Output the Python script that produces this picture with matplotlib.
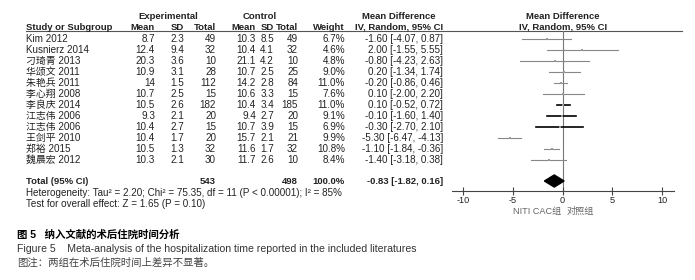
import matplotlib
matplotlib.use("Agg")
import matplotlib.pyplot as plt
from matplotlib.patches import Polygon

plt.rcParams['font.family'] = ['Liberation Sans', 'Noto Sans CJK SC', 'DejaVu Sans']

# ---- data ----
studies = ["Kim 2012", "Kusnierz 2014", "刁琦青 2013", "华颂文 2011", "朱艳兵 2011",
           "李心翔 2008", "李良庆 2014", "江志伟 2006", "江志伟 2006", "王剑平 2010",
           "郑裕 2015", "魏晨宏 2012"]
exp_mean = [8.7, 12.4, 20.3, 10.9, 14, 10.7, 10.5, 9.3, 10.4, 10.4, 10.5, 10.3]
exp_sd = [2.3, 9.4, 3.6, 3.1, 1.5, 2.5, 2.6, 2.1, 2.7, 1.7, 1.3, 2.1]
exp_n = [49, 32, 10, 28, 112, 15, 182, 20, 15, 20, 32, 30]
ctl_mean = [10.3, 10.4, 21.1, 10.7, 14.2, 10.6, 10.4, 9.4, 10.7, 15.7, 11.6, 11.7]
ctl_sd = [8.5, 4.1, 4.2, 2.5, 2.8, 3.3, 3.4, 2.7, 3.9, 2.1, 1.7, 2.6]
ctl_n = [49, 32, 10, 25, 84, 15, 185, 20, 15, 21, 32, 10]
weights = [6.7, 4.6, 4.8, 9.0, 11.0, 7.6, 11.0, 9.1, 6.9, 9.9, 10.8, 8.4]
md = [-1.60, 2.00, -0.80, 0.20, -0.20, 0.10, 0.10, -0.10, -0.30, -5.30, -1.10, -1.40]
ci_lo = [-4.07, -1.55, -4.23, -1.34, -0.86, -2.00, -0.52, -1.60, -2.70, -6.47, -1.84, -3.18]
ci_hi = [0.87, 5.55, 2.63, 1.74, 0.46, 2.20, 0.72, 1.40, 2.10, -4.13, -0.36, 0.38]
dark_rows = [6, 7, 8]

total_exp, total_ctl = 543, 498
total_md, total_lo, total_hi = -0.83, -1.82, 0.16
xticks = [-10, -5, 0, 5, 10]

W, H = 695, 280
FS = 7.1      # normal table text
FSB = 6.8     # bold header text
TXT = '#222222'

fig = plt.figure(figsize=(W / 100, H / 100), dpi=100)

# text layer in pixel coordinates
tx = fig.add_axes([0, 0, 1, 1])
tx.set_xlim(0, W)
tx.set_ylim(H, 0)
tx.axis('off')


def row_y(i):
    return 39 + 11 * i


def put(x, y, s, ha='left', bold=False, size=None, color=TXT):
    if size is None:
        size = FSB if bold else FS
    # y is the visual centre of capitals; place on a common baseline
    tx.text(x, y + size * 0.47, s, ha=ha, va='baseline', fontsize=size, color=color,
            fontweight='bold' if bold else 'normal')


# headers
put(168, 15.5, "Experimental", ha='center', bold=True)
put(260, 15.5, "Control", ha='center', bold=True)
put(399, 15.5, "Mean Difference", ha='center', bold=True)
put(563, 15.5, "Mean Difference", ha='center', bold=True)
put(26, 26.5, "Study or Subgroup", bold=True)
for x, s in [(155, "Mean"), (184, "SD"), (216, "Total"), (256, "Mean"),
             (274, "SD"), (298, "Total"), (345, "Weight")]:
    put(x, 26.5, s, ha='right', bold=True)
put(399, 26.5, "IV, Random, 95% CI", ha='center', bold=True)
put(563, 26.5, "IV, Random, 95% CI", ha='center', bold=True)
tx.plot([26, 682], [31, 31], color='#555555', lw=0.8)

# study rows
for i, name in enumerate(studies):
    y = row_y(i)
    put(26, y, name)
    put(155, y, f"{exp_mean[i]:g}", ha='right')
    put(184, y, f"{exp_sd[i]:g}", ha='right')
    put(216, y, f"{exp_n[i]}", ha='right')
    put(256, y, f"{ctl_mean[i]:g}", ha='right')
    put(274, y, f"{ctl_sd[i]:g}", ha='right')
    put(298, y, f"{ctl_n[i]}", ha='right')
    put(345, y, f"{weights[i]:.1f}%", ha='right')
    put(443, y, f"{md[i]:.2f} [{ci_lo[i]:.2f}, {ci_hi[i]:.2f}]", ha='right')

# total rows
yt = 181
put(26, yt, "Total (95% CI)", bold=True)
put(216, yt, f"{total_exp}", ha='right', bold=True)
put(298, yt, f"{total_ctl}", ha='right', bold=True)
put(345, yt, "100.0%", ha='right', bold=True)
put(443, yt, f"{total_md:.2f} [{total_lo:.2f}, {total_hi:.2f}]", ha='right', bold=True)
put(26, 192.5, "Heterogeneity: Tau² = 2.20; Chi² = 75.35, df = 11 (P < 0.00001); I² = 85%")
put(26, 204, "Test for overall effect: Z = 1.65 (P = 0.10)")

# captions
put(17, 234, "图 5   纳入文献的术后住院时间分析", size=7.5, color='black', bold=True)
put(17, 248, "Figure 5    Meta-analysis of the hospitalization time reported in the included literatures",
    size=7.6, color='#333333')
put(17, 262, "图注：两组在术后住院时间上差异不显著。", size=7.5, color='#444444')

# ---- forest plot ----
x0, x1 = 452, 674
y_top, y_bot = 31, 191
ax = fig.add_axes([x0 / W, 1 - y_bot / H, (x1 - x0) / W, (y_bot - y_top) / H])
px_per_unit = (662 - 463) / 20.0
ax.set_xlim(-10 - (463 - x0) / px_per_unit, 10 + (x1 - 662) / px_per_unit)
ax.set_ylim((y_bot - 39) / 11.0, (y_top - 39) / 11.0)
ax.patch.set_alpha(0)
for side in ['top', 'right', 'left']:
    ax.spines[side].set_visible(False)
ax.spines['bottom'].set_color('#444444')
ax.spines['bottom'].set_linewidth(0.8)
ax.set_yticks([])
ax.set_xticks(xticks)
ax.set_xticklabels([str(t) for t in xticks], fontsize=6.6, color=TXT)
ax.tick_params(axis='x', direction='inout', length=6, width=0.8, color='#444444', pad=0.5)
ax.axvline(0, color='#777777', lw=0.8, zorder=1)

for i in range(len(studies)):
    col = 'black' if i in dark_rows else '#888888'
    lw = 1.2 if i in dark_rows else 0.8
    ax.plot([ci_lo[i], ci_hi[i]], [i, i], color=col, lw=lw, zorder=2)
    ax.plot(md[i], i, marker='s', color='#999999', markersize=1.0 + weights[i] * 0.1,
            markeredgewidth=0, zorder=3)

yd = (yt - 39) / 11.0
diamond = Polygon([(total_lo, yd), (total_md, yd - 0.55), (total_hi, yd), (total_md, yd + 0.55)],
                  closed=True, facecolor='black', edgecolor='black', zorder=3)
ax.add_patch(diamond)

put(561, 210.5, "NITI CAC组", ha='right', color='#666666', size=6.6)
put(567, 210.5, "对照组", ha='left', color='#666666', size=6.6)

fig.savefig("out.png", dpi=100)
